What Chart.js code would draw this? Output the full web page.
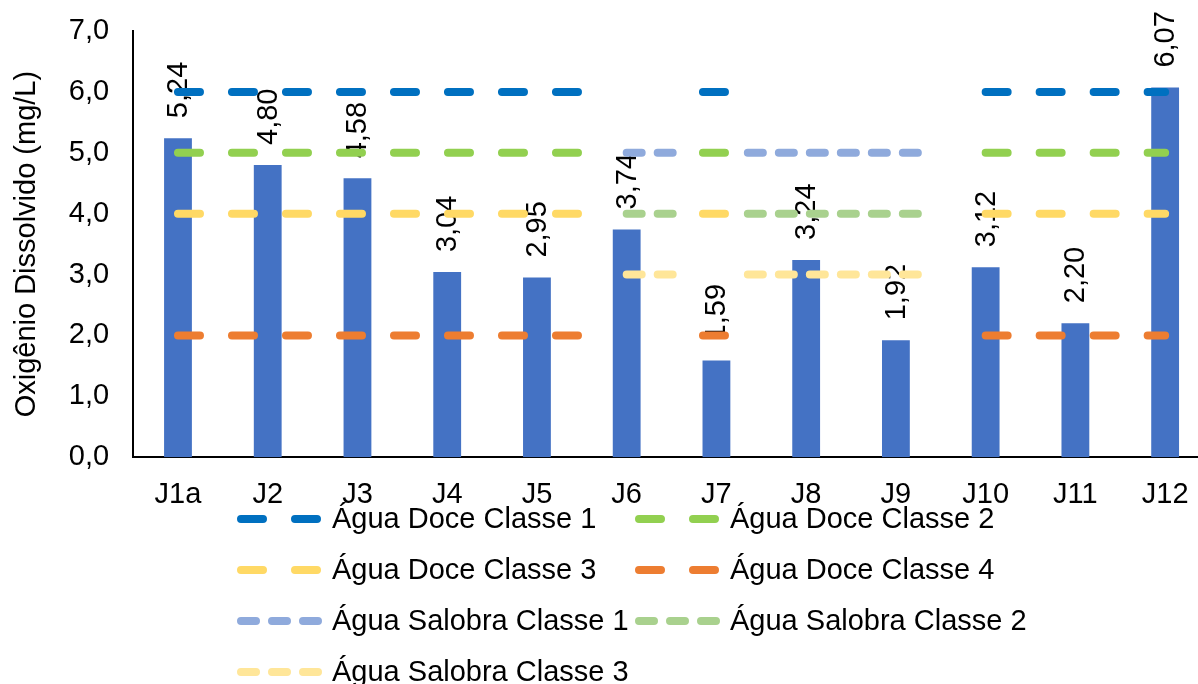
<!DOCTYPE html>
<html>
<head>
<meta charset="utf-8">
<script src="https://cdn.jsdelivr.net/npm/chart.js@4"></script>
<style>
  html, body { margin: 0; padding: 0; background: #fff; overflow: hidden; }
  #wrap { width: 1212px; height: 684px; }
</style>
</head>
<body>
<div id="wrap"><canvas id="myChart" width="1212" height="684"></canvas></div>
<script>
// categories and measured dissolved oxygen
const categories = ['J1a', 'J2', 'J3', 'J4', 'J5', 'J6', 'J7', 'J8', 'J9', 'J10', 'J11', 'J12'];
const odValues = [5.24, 4.80, 4.58, 3.04, 2.95, 3.74, 1.59, 3.24, 1.92, 3.12, 2.20, 6.07];

// reference limits (mg/L)
const doceNames = ['Água Doce Classe 1', 'Água Doce Classe 2', 'Água Doce Classe 3', 'Água Doce Classe 4'];
const doceLevels = [6, 5, 4, 2];
const salobraNames = ['Água Salobra Classe 1', 'Água Salobra Classe 2', 'Água Salobra Classe 3'];
const salobraLevels = [5, 4, 3];

// spans of the limit lines, in category index units
const doceRanges = [[0, 4.5], [5.85, 6.15], [9, 11]];
const salobraRanges = [[5, 5.55], [6.35, 8.3]];

const yTicks = [0, 1, 2, 3, 4, 5, 6, 7];

const doceColors = ['#0070C0', '#92D050', '#FFD965', '#ED7D31'];
const salobraColors = ['#8FAADC', '#A9D18E', '#FFE699'];
const barColor = '#4472C4';
const FONT = '"Liberation Sans", Arial, sans-serif';
const fontSize = 29;

function buildLine(ranges, level) {
    const pts = [];
    ranges.forEach((r, i) => {
        pts.push({ x: r[0], y: level });
        pts.push({ x: r[1], y: level });
        if (i < ranges.length - 1)
            pts.push({ x: (r[1] + ranges[i + 1][0]) / 2, y: null });
    });
    return pts;
}

const fmt = v => Number(v).toFixed(1).replace('.', ',');

// chart.js counts tick padding on both sides and in the label overflow, drop that
const noOverflow = scale => {
    scale.paddingTop = 0;
    scale.paddingBottom = 0;
    scale.paddingLeft = 0;
    scale.paddingRight = 0;
};

const datasets = [{
    type: 'bar',
    label: 'OD',
    data: odValues.map((v, i) => ({ x: i, y: v })),
    backgroundColor: barColor,
    categoryPercentage: 1,
    barPercentage: 0.31,
    order: 1
}];

doceNames.forEach((name, i) => {
    datasets.push({
        type: 'line',
        label: name,
        data: buildLine(doceRanges, doceLevels[i]),
        borderColor: doceColors[i],
        backgroundColor: doceColors[i],
        borderWidth: 8,
        borderDash: [22, 32],
        borderCapStyle: 'round',
        pointRadius: 0,
        spanGaps: false,
        order: 0
    });
});
salobraNames.forEach((name, i) => {
    datasets.push({
        type: 'line',
        label: name,
        data: buildLine(salobraRanges, salobraLevels[i]),
        borderColor: salobraColors[i],
        backgroundColor: salobraColors[i],
        borderWidth: 8,
        borderDash: [15, 16],
        borderCapStyle: 'round',
        pointRadius: 0,
        spanGaps: false,
        order: 0
    });
});

// rotated value labels above the bars (drawn before the limit lines)
const valueLabels = {
    id: 'valueLabels',
    afterDatasetDraw(chart, args) {
        if (args.index !== 0) return;
        const ctx = chart.ctx;
        ctx.save();
        ctx.font = fontSize + 'px ' + FONT;
        ctx.fillStyle = '#000';
        ctx.textAlign = 'left';
        ctx.textBaseline = 'middle';
        args.meta.data.forEach((bar, i) => {
            ctx.save();
            ctx.translate(bar.x + 1, bar.y - 20);
            ctx.rotate(-Math.PI / 2);
            ctx.fillText(odValues[i].toFixed(2).replace('.', ','), 0, 0);
            ctx.restore();
        });
        ctx.restore();
    }
};

// two-column legend under the chart
const legendGrid = {
    id: 'legendGrid',
    afterDraw(chart) {
        const ctx = chart.ctx;
        const colX = [237, 635];
        const rowY = [519, 570, 621, 672];
        ctx.save();
        ctx.font = fontSize + 'px ' + FONT;
        ctx.textBaseline = 'middle';
        ctx.textAlign = 'left';
        chart.data.datasets.slice(1).forEach((ds, i) => {
            const x0 = colX[i % 2];
            const y = rowY[Math.floor(i / 2)];
            ctx.strokeStyle = ds.borderColor;
            ctx.lineWidth = 8;
            ctx.lineCap = 'round';
            ctx.setLineDash(ds.borderDash);
            ctx.beginPath();
            ctx.moveTo(x0 + 4, y);
            ctx.lineTo(x0 + 81, y);
            ctx.stroke();
            ctx.setLineDash([]);
            ctx.fillStyle = '#000';
            ctx.fillText(ds.label, x0 + 95, y + 1);
        });
        ctx.restore();
    }
};

const chart = new Chart(document.getElementById('myChart'), {
    type: 'bar',
    data: {
        datasets: datasets
    },
    options: {
        responsive: false,
        animation: false,
        layout: {
            autoPadding: false,
            padding: { top: 31, left: 0, right: 2, bottom: 152 }
        },
        scales: {
            x: {
                type: 'linear',
                offset: false,
                min: -0.5,
                max: 11.5,
                afterBuildTicks: scale => { scale.ticks = categories.map((c, i) => ({ value: i })); },
                afterFit: noOverflow,
                grid: { display: false, drawTicks: false, offset: false },
                border: { display: true, color: '#000', width: 2 },
                ticks: {
                    color: '#000',
                    padding: 20,
                    font: { family: FONT, size: fontSize },
                    maxRotation: 0,
                    autoSkip: false,
                    callback: v => categories[v]
                }
            },
            y: {
                min: 0,
                max: 7,
                afterBuildTicks: scale => { scale.ticks = yTicks.map(v => ({ value: v })); },
                afterFit: noOverflow,
                grid: { display: false, drawTicks: false },
                border: { display: true, color: '#000', width: 2 },
                ticks: {
                    color: '#000',
                    padding: 24,
                    font: { family: FONT, size: fontSize },
                    callback: v => fmt(v)
                },
                title: {
                    display: true,
                    text: 'Oxigênio Dissolvido (mg/L)',
                    color: '#000',
                    font: { family: FONT, size: fontSize },
                    padding: { top: 10, bottom: 0 }
                }
            }
        },
        plugins: {
            legend: { display: false },
            tooltip: { enabled: false },
            title: { display: false }
        }
    },
    plugins: [valueLabels, legendGrid]
});
</script>
</body>
</html>
